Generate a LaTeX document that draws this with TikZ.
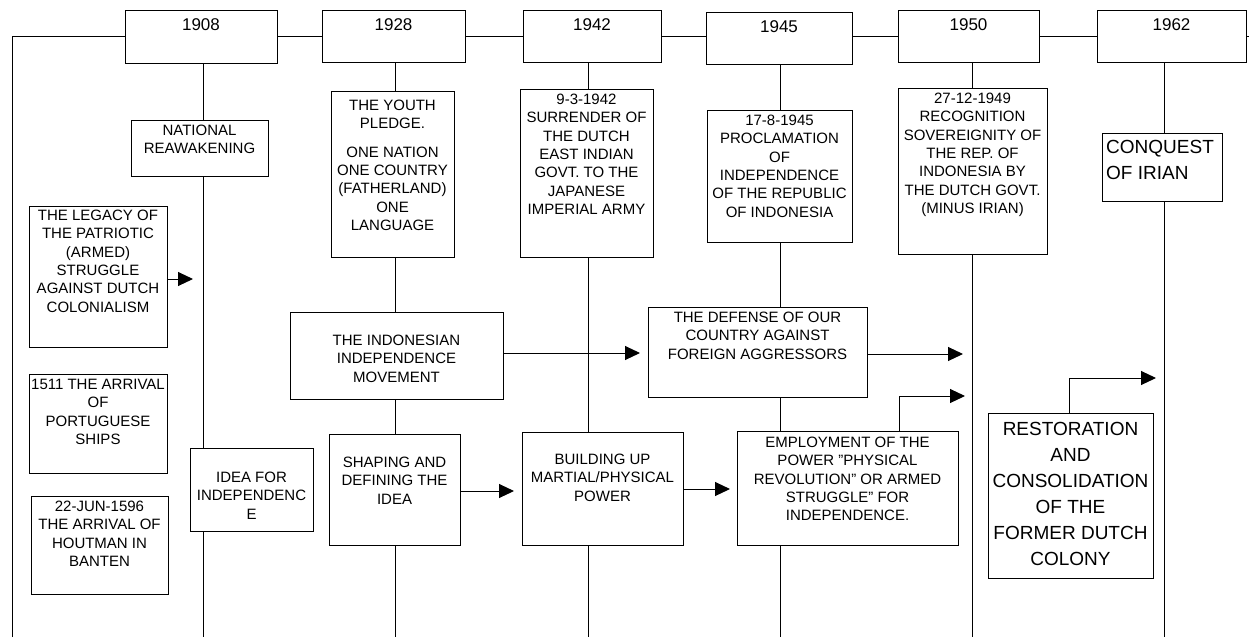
\documentclass[tikz,border=0pt]{standalone}
\usepackage{fontspec}
\setmainfont{Liberation Sans}
\usetikzlibrary{arrows.meta,calc}
\tikzset{
  box/.style={draw, fill=white, line width=1pt, inner sep=0pt, outer sep=0pt},
  txt/.style={inner sep=0pt, align=center, anchor=north, font=\fontsize{15}{18.3}\selectfont},
  hdr/.style={inner sep=0pt, anchor=north, font=\fontsize{17}{20}\selectfont},
  big/.style={inner sep=0pt, align=center, anchor=north, font=\fontsize{19}{26}\selectfont},
  ln/.style={line width=1pt},
  arr/.style={line width=1pt, -{Triangle[length=15pt,width=14pt]}},
}
\newcommand\bx[5]{\node[box, minimum width={(#4-#2)*1pt}, minimum height={(#5-#3)*1pt}] (#1) at ({(#2+#4)/2},{(#3+#5)/2}) {};}
\newcommand\qt{\char34}
\begin{document}
\begin{tikzpicture}[x=1pt,y=-1pt]
\useasboundingbox (0,0) rectangle (1249,637);
% coordinates
\coordinate (tl) at (12,36);
\coordinate (bl) at (12,637);
\coordinate (tr) at (1249,36);
\coordinate (v1) at (203,637);
\coordinate (v2) at (395,637);
\coordinate (v3) at (588,637);
\coordinate (v4) at (780,637);
\coordinate (v5) at (972,637);
\coordinate (v6) at (1164,637);
% boxes
\bx{y1908}{125}{10}{277}{63}
\bx{y1928}{322}{10}{465}{62}
\bx{y1942}{523}{10}{661}{62}
\bx{y1945}{706}{12}{852}{64}
\bx{y1950}{898}{10}{1039}{62}
\bx{y1962}{1097}{10}{1246}{62}
\bx{nr}{131}{120}{268}{176}
\bx{leg}{29}{206}{167}{347}
\bx{pships}{29}{374}{167}{473}
\bx{hout}{31}{496}{168}{594}
\bx{idea}{190}{448}{313}{531}
\bx{yp}{331}{91}{454}{257}
\bx{mov}{290}{312}{503}{399}
\bx{shp}{329}{434}{460}{545}
\bx{surr}{520}{89}{653}{257}
\bx{bld}{522}{432}{683}{545}
\bx{proc}{707}{110}{852}{242}
\bx{def}{648}{307}{867}{397}
\bx{emp}{737}{431}{958}{545}
\bx{rec}{898}{88}{1047}{254}
\bx{conq}{1102}{133}{1222}{201}
\bx{rst}{988}{413}{1153}{578}
% timeline
\draw[ln] (bl) -- (tl) -- (y1908.west |- tl);
\draw[ln] (y1908.east |- tl) -- (y1928.west |- tl);
\draw[ln] (y1928.east |- tl) -- (y1942.west |- tl);
\draw[ln] (y1942.east |- tl) -- (y1945.west |- tl);
\draw[ln] (y1945.east |- tl) -- (y1950.west |- tl);
\draw[ln] (y1950.east |- tl) -- (y1962.west |- tl);
\draw[ln] (y1962.east |- tl) -- (tr);
% verticals
\draw[ln] (y1908.south -| v1) -- (nr.north -| v1);
\draw[ln] (nr.south -| v1) -- (idea.north -| v1);
\draw[ln] (idea.south -| v1) -- (v1);
\draw[ln] (y1928.south -| v2) -- (yp.north -| v2);
\draw[ln] (yp.south -| v2) -- (mov.north -| v2);
\draw[ln] (mov.south -| v2) -- (shp.north -| v2);
\draw[ln] (shp.south -| v2) -- (v2);
\draw[ln] (y1942.south -| v3) -- (surr.north -| v3);
\draw[ln] (surr.south -| v3) -- (bld.north -| v3);
\draw[ln] (bld.south -| v3) -- (v3);
\draw[ln] (y1945.south -| v4) -- (proc.north -| v4);
\draw[ln] (proc.south -| v4) -- (def.north -| v4);
\draw[ln] (def.south -| v4) -- (emp.north -| v4);
\draw[ln] (emp.south -| v4) -- (v4);
\draw[ln] (y1950.south -| v5) -- (rec.north -| v5);
\draw[ln] (rec.south -| v5) -- (v5);
\draw[ln] (y1962.south -| v6) -- (conq.north -| v6);
\draw[ln] (conq.south -| v6) -- (v6);
% arrows
\coordinate (a1) at (193,279);
\draw[arr] (leg.east |- a1) -- (a1);
\coordinate (a2) at (640,353);
\draw[arr] (mov.east |- a2) -- (a2);
\coordinate (a3) at (514,491);
\draw[arr] (shp.east |- a3) -- (a3);
\coordinate (a4) at (730,489);
\draw[arr] (bld.east |- a4) -- (a4);
\coordinate (a5) at (963,354);
\draw[arr] (def.east |- a5) -- (a5);
\coordinate (e1) at (899,396);
\coordinate (a6) at (965,396);
\draw[arr] (emp.north -| e1) -- (e1) -- (a6);
\coordinate (r1) at (1069,378);
\coordinate (a7) at (1156,378);
\draw[arr] (rst.north -| r1) -- (r1) -- (a7);
% header texts
\node[hdr] (t1908) at ([yshift=-8pt]y1908.north) {1908};
\node[hdr] (t1928) at ([yshift=-8pt]y1928.north) {1928};
\node[hdr] (t1942) at ([yshift=-8pt]y1942.north) {1942};
\node[hdr] (t1945) at ([yshift=-8pt]y1945.north) {1945};
\node[hdr] (t1950) at ([yshift=-8pt]y1950.north) {1950};
\node[hdr] (t1962) at ([yshift=-8pt]y1962.north) {1962};
% box texts
\node[txt] (nr-t) at ([yshift=-5pt]nr.north) {NATIONAL\\REAWAKENING};
\node[txt] (leg-t) at ([yshift=-4pt]leg.north) {THE LEGACY OF\\THE PATRIOTIC\\(ARMED)\\STRUGGLE\\AGAINST DUTCH\\COLONIALISM};
\node[txt] (pships-t) at ([yshift=-5pt]pships.north) {1511 THE ARRIVAL\\OF\\PORTUGUESE\\SHIPS};
\node[txt] (hout-t) at ([yshift=-5pt]hout.north) {22-JUN-1596\\THE ARRIVAL OF\\HOUTMAN IN\\BANTEN};
\node[txt] (idea-t) at ([yshift=-24pt]idea.north) {IDEA FOR\\INDEPENDENC\\E};
\node[txt] (yp-t) at ([yshift=-9pt]yp.north) {THE YOUTH\\PLEDGE.\\[10pt]ONE NATION\\ONE COUNTRY\\(FATHERLAND)\\ONE\\LANGUAGE};
\node[txt] (mov-t) at ([yshift=-23pt]mov.north) {THE INDONESIAN\\INDEPENDENCE\\MOVEMENT};
\node[txt] (shp-t) at ([yshift=-23pt]shp.north) {SHAPING AND\\DEFINING THE\\IDEA};
\node[txt] (surr-t) at ([yshift=-5pt]surr.north) {9-3-1942\\SURRENDER OF\\THE DUTCH\\EAST INDIAN\\GOVT. TO THE\\JAPANESE\\IMPERIAL ARMY};
\node[txt] (bld-t) at ([yshift=-22pt]bld.north) {BUILDING UP\\MARTIAL/PHYSICAL\\POWER};
\node[txt] (proc-t) at ([yshift=-5pt]proc.north) {17-8-1945\\PROCLAMATION\\OF\\INDEPENDENCE\\OF THE REPUBLIC\\OF INDONESIA};
\node[txt] (def-t) at ([yshift=-5pt]def.north) {THE DEFENSE OF OUR\\COUNTRY AGAINST\\FOREIGN AGGRESSORS};
\node[txt] (emp-t) at ([yshift=-6pt]emp.north) {EMPLOYMENT OF THE\\POWER \qt PHYSICAL\\REVOLUTION\qt{} OR ARMED\\STRUGGLE\qt{} FOR\\INDEPENDENCE.};
\node[txt] (rec-t) at ([yshift=-5pt]rec.north) {27-12-1949\\RECOGNITION\\SOVEREIGNITY OF\\THE REP. OF\\INDONESIA BY\\THE DUTCH GOVT.\\(MINUS IRIAN)};
\node[big, align=left, anchor=north west] (conq-t) at ([xshift=4pt,yshift=-7pt]conq.north west) {CONQUEST\\OF IRIAN};
\node[big] (rst-t) at ([yshift=-9pt]rst.north) {RESTORATION\\AND\\CONSOLIDATION\\OF THE\\FORMER DUTCH\\COLONY};
\end{tikzpicture}
\end{document}
